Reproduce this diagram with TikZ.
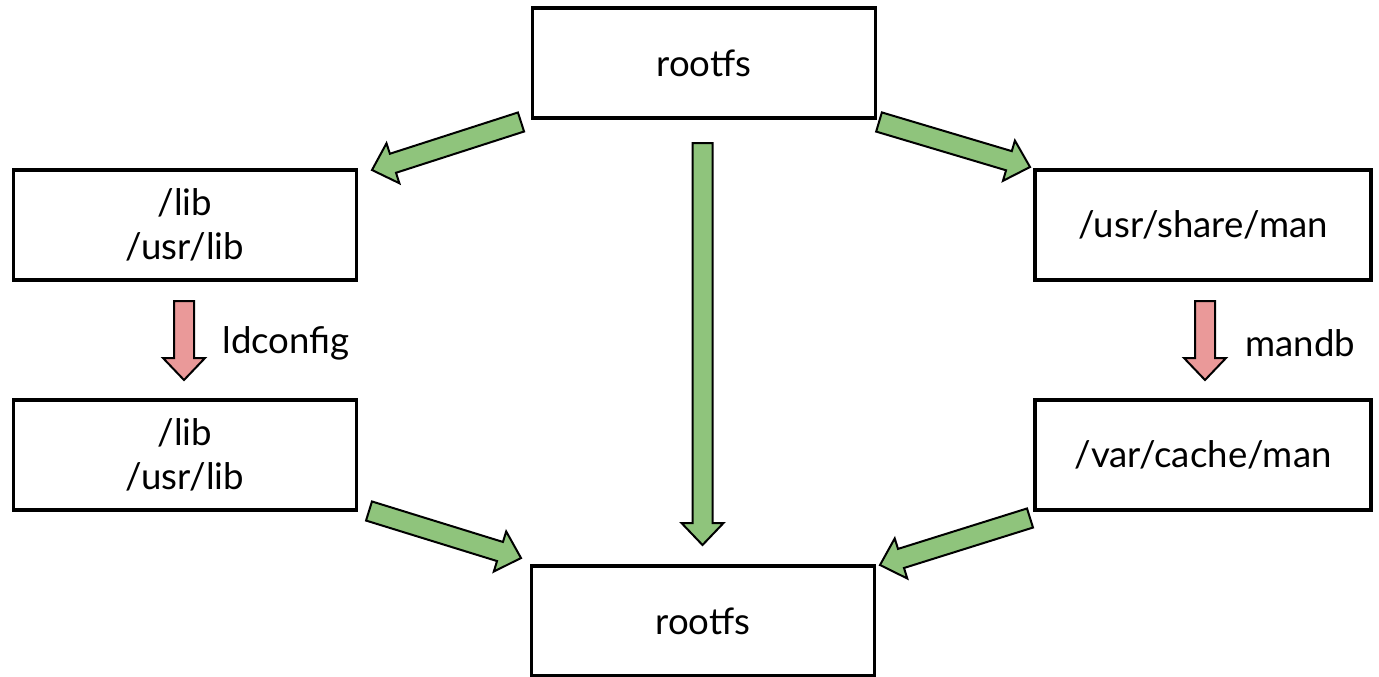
\documentclass[tikz,border=0pt]{standalone}
\usepackage{fontspec}
\setmainfont{Lato}
\usepackage{xcolor}
\usepackage{tikz}
\usetikzlibrary{calc}

\definecolor{arrgreen}{HTML}{8FC47C}
\definecolor{arrred}{HTML}{EA9999}

% block arrow from tail to tip
\newcommand{\blockarrow}[3][grnarrow]{%
    \coordinate (ba-h) at ($(#3)!11pt!(#2)$);
    \draw[#1] ($(#2)!5pt!90:(#3)$) -- ($(ba-h)!5pt!-90:(#2)$)
        -- ($(ba-h)!10.5pt!-90:(#2)$) -- (#3) -- ($(ba-h)!10.5pt!90:(#2)$)
        -- ($(ba-h)!5pt!90:(#2)$) -- ($(#2)!5pt!-90:(#3)$) -- cycle;
}

\tikzset{
    dirbox/.style={draw, line width=1.75pt, fill=white, align=center,
        minimum width=171.5pt, minimum height=55pt, inner sep=0pt,
        font=\fontsize{18.3}{22}\selectfont},
    grnarrow/.style={draw, line width=1pt, line join=miter, fill=arrgreen},
    redarrow/.style={draw, line width=1pt, line join=miter, fill=arrred},
    toollabel/.style={anchor=west, inner sep=0pt, font=\fontsize{18.3}{22}\selectfont}
}

\begin{document}
\begin{tikzpicture}[x=0.5pt, y=-0.5pt]
    \useasboundingbox (0,0) rectangle (1379,676);

    \node[dirbox] (top) at (704,63) {rootfs};
    \node[dirbox] (libsrc) at (185,225) {/lib\\/usr/lib};
    \node[dirbox] (libdst) at (185,455) {/lib\\/usr/lib};
    \node[dirbox, minimum width=168pt] (mansrc) at (1203,225) {/usr/share/man};
    \node[dirbox, minimum width=168pt] (mandst) at (1203,455) {/var/cache/man};
    \node[dirbox] (bottom) at (703,621) {rootfs};

    \node[toollabel] (ldconfig) at (222,343) {ldconfig};
    \node[toollabel] (mandb) at (1245,343) {mandb};

    % arrow ends
    \coordinate (a1) at (521,122);
    \coordinate (b1) at (372,170);
    \coordinate (a2) at (879,122);
    \coordinate (b2) at (1030,167);
    \coordinate (a3) at (702.5,143);
    \coordinate (b3) at (702.5,545);
    \coordinate (a4) at (369,511);
    \coordinate (b4) at (521,558);
    \coordinate (a5) at (1030,518);
    \coordinate (b5) at (880,565);
    \coordinate (a6) at (184,301);
    \coordinate (b6) at (184,380);
    \coordinate (a7) at (1205,301);
    \coordinate (b7) at (1205,380);

    \blockarrow{a1}{b1}
    \blockarrow{a2}{b2}
    \blockarrow{a3}{b3}
    \blockarrow{a4}{b4}
    \blockarrow{a5}{b5}
    \blockarrow[redarrow]{a6}{b6}
    \blockarrow[redarrow]{a7}{b7}
\end{tikzpicture}
\end{document}
